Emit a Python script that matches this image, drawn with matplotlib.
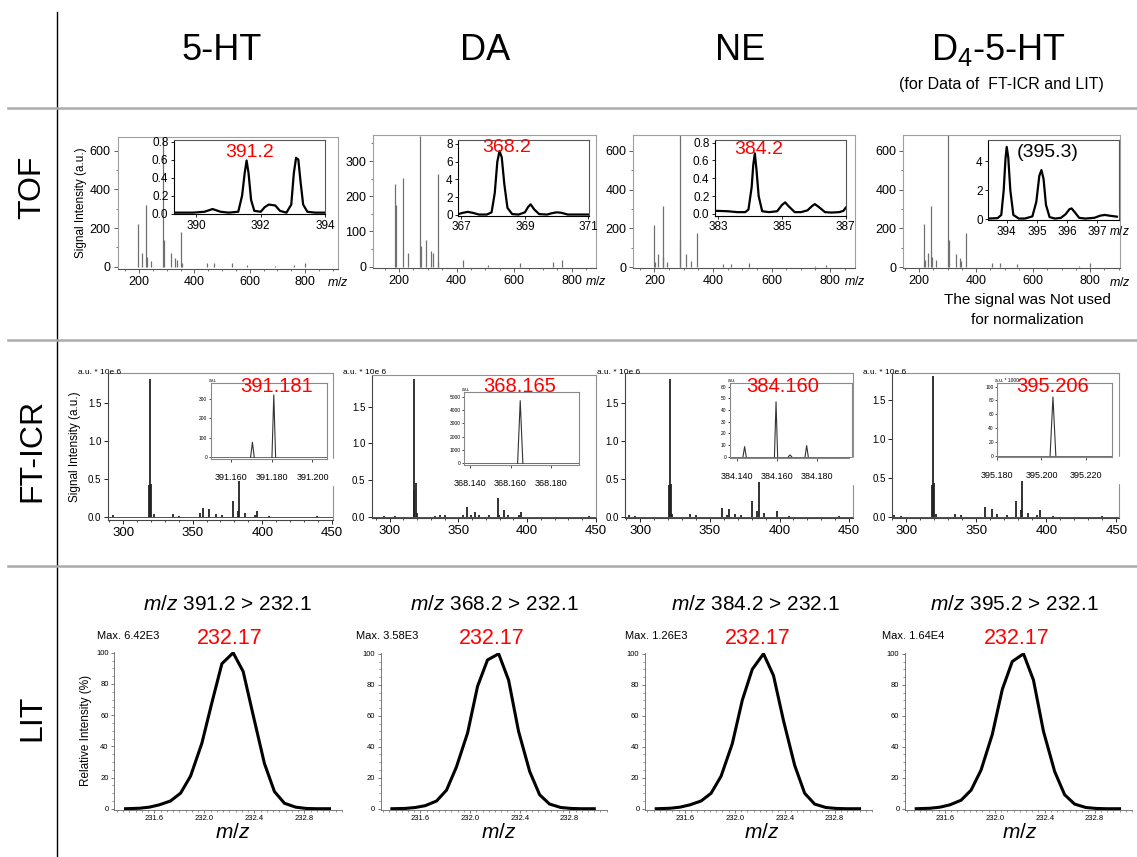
import numpy as np
import matplotlib.pyplot as plt
from matplotlib.lines import Line2D
from matplotlib.patches import Rectangle
from matplotlib.ticker import MultipleLocator, FormatStrFormatter

plt.rcParams['font.family'] = ['Liberation Sans', 'DejaVu Sans']
plt.rcParams['mathtext.fontset'] = 'custom'
plt.rcParams['mathtext.rm'] = 'Liberation Sans'
plt.rcParams['mathtext.it'] = 'Liberation Sans:italic'

# ---------------- data ----------------
compounds = ['5-HT', 'DA', 'NE', 'D$_4$-5-HT']
rows = ['TOF', 'FT-ICR', 'LIT']

# TOF full spectra (m/z, a.u.)
tof1_mz = [197.6, 209, 224, 230, 242, 288, 291, 316, 330, 337, 351, 354, 445, 471, 535, 590, 690, 760, 800]
tof1_int = [220, 72, 319, 52, 31, 680, 138, 69, 47, 34, 181, 17, 17, 20, 17, 8, 6, 10, 20]
tof2_mz = [186, 189, 213, 230, 273, 275, 294, 311, 318, 335, 337, 424, 510, 620, 736, 765]
tof2_int = [234, 175, 253, 38, 372, 60, 76, 45, 38, 262, 14, 19, 5, 9, 14, 19]
tof3_mz = [200, 202, 214, 228, 229, 242, 288, 289, 308, 324, 347, 434, 462, 522, 750, 785]
tof3_int = [218, 26, 69, 317, 55, 29, 690, 141, 69, 34, 177, 17, 17, 21, 8, 12]
tof4_mz = [216, 220, 229, 240, 244, 259, 302, 303, 328, 343, 347, 365, 455, 482, 543, 760, 800]
tof4_int = [221, 38, 72, 317, 55, 38, 690, 141, 69, 46, 34, 177, 21, 21, 17, 8, 21]

# TOF zoomed profiles
tin1_mz = [389.3, 389.9, 390.25, 390.5, 390.75, 391.0, 391.3, 391.42, 391.5, 391.56, 391.62, 391.7, 391.8,
           392.0, 392.12, 392.25, 392.45, 392.6, 392.8, 392.95, 393.03, 393.1, 393.17, 393.24, 393.32,
           393.45, 393.7, 394.0]
tin1_int = [0.01, 0.01, 0.02, 0.05, 0.02, 0.01, 0.02, 0.2, 0.45, 0.59, 0.45, 0.15, 0.03,
            0.02, 0.07, 0.1, 0.09, 0.03, 0.01, 0.1, 0.45, 0.62, 0.6, 0.35, 0.1,
            0.02, 0.01, 0.01]
tin2_mz = [366.9, 367.05, 367.2, 367.35, 367.55, 367.8, 367.95, 368.05, 368.13, 368.2, 368.27, 368.35,
           368.45, 368.6, 368.8, 369.0, 369.1, 369.18, 369.3, 369.45, 369.7, 369.85, 370.0, 370.15,
           370.35, 370.6, 371.0]
tin2_int = [0.1, 0.25, 0.35, 0.25, 0.05, 0.05, 0.3, 2.5, 6.0, 7.2, 6.5, 3.5,
            0.8, 0.1, 0.05, 0.3, 0.9, 1.2, 0.6, 0.1, 0.05, 0.2, 0.3, 0.25,
            0.05, 0.05, 0.05]
tin3_mz = [382.9, 383.3, 383.6, 383.85, 383.95, 384.05, 384.1, 384.15, 384.2, 384.27, 384.38, 384.6,
           384.85, 385.0, 385.1, 385.2, 385.4, 385.6, 385.8, 385.95, 386.03, 386.15, 386.35, 386.55,
           386.8, 386.93, 387.0]
tin3_int = [0.035, 0.03, 0.02, 0.02, 0.05, 0.3, 0.55, 0.68, 0.5, 0.2, 0.03, 0.02,
            0.03, 0.1, 0.13, 0.09, 0.02, 0.02, 0.04, 0.09, 0.11, 0.08, 0.02, 0.015,
            0.02, 0.035, 0.07]
tin4_mz = [393.4, 393.7, 393.82, 393.9, 393.96, 394.0, 394.05, 394.12, 394.22, 394.4, 394.6, 394.85,
           394.98, 395.08, 395.15, 395.22, 395.3, 395.42, 395.6, 395.8, 395.95, 396.08, 396.15, 396.25,
           396.4, 396.6, 396.9, 397.1, 397.25, 397.4, 397.65]
tin4_int = [0.05, 0.08, 0.3, 2.0, 4.2, 5.0, 4.3, 2.0, 0.3, 0.05, 0.05, 0.2,
            1.2, 3.0, 3.4, 2.8, 1.0, 0.15, 0.05, 0.1, 0.35, 0.7, 0.75, 0.5,
            0.1, 0.05, 0.1, 0.25, 0.3, 0.25, 0.18]
tof_labels = ['391.2', '368.2', '384.2', '(395.3)']

# FT-ICR full spectra (x 10^6)
icr1_mz = [292.8, 318.7, 319.2, 320.4, 322, 336, 340, 355, 357.6, 362, 366.7, 371, 379, 382.4, 383.6,
           387.6, 394.8, 396.5, 405, 439.2]
icr1_int = [0.02, 0.41, 1.81, 0.43, 0.03, 0.03, 0.015, 0.05, 0.12, 0.1, 0.04, 0.02, 0.2, 0.07, 0.47,
            0.05, 0.02, 0.08, 0.01, 0.01]
icr2_mz = [296, 304, 317.4, 318.1, 319.4, 320, 333, 336.3, 340, 353, 356, 359, 362.4, 365, 372,
           378.6, 379.8, 383.5, 386, 394.4, 395.6, 445]
icr2_int = [0.01, 0.015, 0.36, 1.88, 0.46, 0.05, 0.01, 0.02, 0.02, 0.02, 0.14, 0.02, 0.06, 0.03, 0.02,
            0.25, 0.03, 0.09, 0.02, 0.03, 0.06, 0.01]
icr3_mz = [292, 296, 320.4, 321.1, 321.8, 323, 336, 340, 358.8, 362, 363.6, 367.7, 372, 380.4, 384,
           385.2, 388.8, 397.9, 407, 443]
icr3_int = [0.02, 0.01, 0.41, 1.81, 0.43, 0.03, 0.03, 0.015, 0.12, 0.02, 0.1, 0.04, 0.02, 0.2, 0.08,
            0.46, 0.05, 0.08, 0.01, 0.01]
icr4_mz = [291, 296, 318.4, 319.1, 319.8, 321, 335, 339, 356.1, 360.9, 365, 372, 378.1, 381.9, 382.9,
           386.6, 393, 395.1, 405, 440]
icr4_int = [0.02, 0.01, 0.41, 1.81, 0.43, 0.03, 0.03, 0.015, 0.12, 0.1, 0.03, 0.02, 0.2, 0.08, 0.46,
            0.05, 0.02, 0.08, 0.01, 0.01]

# FT-ICR zoomed peaks
iin1_mz, iin1_int = [391.1705, 391.181], [77, 319]
iin2_mz, iin2_int = [368.1648], [4700]
iin3_mz, iin3_int = [384.144, 384.1597, 384.1667, 384.175], [8.6, 47, 1.5, 9.5]
iin4_mz, iin4_int = [395.2052], [85]
icr_labels = ['391.181', '368.165', '384.160', '395.206']

# LIT product-ion profiles (relative %)
lit_mz = [231.37, 231.48, 231.56, 231.64, 231.73, 231.81, 231.89, 231.98, 232.06, 232.14,
          232.23, 232.31, 232.39, 232.48, 232.56, 232.64, 232.73, 232.81, 232.89, 233.0]
lit1 = [0, 0.3, 1, 2.5, 5, 10, 21, 42, 68, 93, 100, 88, 60, 29, 11, 3.5, 1, 0.2, 0, 0]
lit2 = [0, 0.2, 0.8, 2, 5, 12, 27, 49, 79, 96, 100, 83, 50, 24, 9, 3, 0.8, 0.2, 0, 0]
lit3 = [0, 0.3, 1, 2.5, 5, 10, 21, 42, 70, 90, 100, 86, 57, 28, 10, 3, 0.8, 0.2, 0, 0]
lit4 = [0, 0.3, 1, 2.5, 5.5, 12, 25, 48, 77, 95, 100, 83, 50, 24, 9, 3, 0.8, 0.2, 0, 0]
lit_titles = ['391.2 > 232.1', '368.2 > 232.1', '384.2 > 232.1', '395.2 > 232.1']
lit_max = ['Max. 6.42E3', 'Max. 3.58E3', 'Max. 1.26E3', 'Max. 1.64E4']

# ---------------- layout helpers ----------------
W, H = 1137, 857
fig = plt.figure(figsize=(W / 100, H / 100), dpi=100)


def box(x0, y0, x1, y1):
    return [x0 / W, 1 - y1 / H, (x1 - x0) / W, (y1 - y0) / H]


def ftext(x, y, s, **kw):
    return fig.text(x / W, 1 - y / H, s, **kw)


# frame lines
fig.add_artist(Line2D([57 / W, 57 / W], [1 - 12 / H, 0], color='black', lw=1))
for yy in [108, 340, 566]:
    fig.add_artist(Line2D([8 / W, 1], [1 - yy / H, 1 - yy / H], color='#aaaaaa', lw=1.8))

# headers
for x, name in zip([222, 485, 740, 998], compounds):
    ftext(x, 50, name, fontsize=26, ha='center', va='center')
ftext(1001, 84, '(for Data of  FT-ICR and LIT)', fontsize=11.5, ha='center', va='center')
for y, name in zip([187, 450, 718], rows):
    ftext(32, y, name, fontsize=23, rotation=90, ha='center', va='center')

# ---------------- TOF ----------------
tof_data = [(tof1_mz, tof1_int), (tof2_mz, tof2_int), (tof3_mz, tof3_int), (tof4_mz, tof4_int)]
tof_rect = [(117.7, 137, 338, 269), (373.3, 135, 596, 267.7), (633.3, 135, 855, 267.7), (903.3, 135, 1120, 268.3)]
tof_xlim = [(123, 919), (111, 884), (128, 885), (144, 905)]
tof_ylim = [(-12, 671), (-3, 374), (-2, 681), (-5, 681)]
tof_yticks = [[0, 200, 400, 600], [0, 100, 200, 300], [0, 200, 400, 600], [0, 200, 400, 600]]

tin_data = [(tin1_mz, tin1_int), (tin2_mz, tin2_int), (tin3_mz, tin3_int), (tin4_mz, tin4_int)]
tin_rect = [(174, 140, 325, 214), (458.3, 140, 589.3, 215.7), (715, 140, 845.7, 215.7), (988.3, 140, 1119, 220)]
tin_xlim = [(389.3, 394.0), (366.9, 371.03), (382.9, 387.0), (393.39, 397.72)]
tin_ylim = [(-0.005, 0.818), (-0.08, 8.45), (-0.02, 0.83), (-0.05, 5.48)]
tin_xticks = [[390, 392, 394], [367, 369, 371], [383, 385, 387], [394, 395, 396, 397]]
tin_yticks = [[0, 0.2, 0.4, 0.6, 0.8], [0, 2, 4, 6, 8], [0, 0.2, 0.4, 0.6, 0.8], [0, 2, 4]]
tin_fmt = ['%.1f', '%d', '%.1f', '%d']
tof_lab_pos = [(250, 153), (507, 148), (759, 150), (1048, 153)]

for i in range(4):
    ax = fig.add_axes(box(*tof_rect[i]))
    ax.vlines(tof_data[i][0], 0, tof_data[i][1], color='#707070', lw=0.9)
    ax.set_xlim(tof_xlim[i])
    ax.set_ylim(tof_ylim[i])
    ax.set_xticks([200, 400, 600, 800])
    ax.xaxis.set_minor_locator(MultipleLocator(50))
    ax.set_yticks(tof_yticks[i])
    ax.yaxis.set_minor_locator(MultipleLocator(tof_yticks[i][1] / 2))
    ax.tick_params(labelsize=9, length=3, width=0.6, color='#444', pad=2)
    ax.tick_params(which='minor', length=1.5, width=0.5, color='#444')
    for s in ax.spines.values():
        s.set_color('#a0a0a0')
        s.set_linewidth(0.8)
    ax.spines['bottom'].set_color('#555')
    ax.text(1.0, -0.055, '$m/z$', transform=ax.transAxes, ha='center', va='top', fontsize=9)
    if i == 0:
        ax.set_ylabel('Signal Intensity (a.u.)', fontsize=8.5, labelpad=2)

    ins = fig.add_axes(box(*tin_rect[i]))
    ins.plot(tin_data[i][0], tin_data[i][1], color='black', lw=1.6)
    ins.set_xlim(tin_xlim[i])
    ins.set_ylim(tin_ylim[i])
    ins.set_xticks(tin_xticks[i])
    ins.set_yticks(tin_yticks[i])
    ins.yaxis.set_major_formatter(FormatStrFormatter(tin_fmt[i]))
    ins.tick_params(labelsize=8.5, length=2.5, width=0.6, pad=1.5)
    for side in ['left', 'bottom']:
        ins.spines[side].set_color('black')
        ins.spines[side].set_linewidth(0.8)
    for side in ['top', 'right']:
        ins.spines[side].set_color('#555')
        ins.spines[side].set_linewidth(0.8)
    if i == 3:
        ins.text(1.0, -0.06, '$m/z$', transform=ins.transAxes, ha='center', va='top', fontsize=8.5)

    ftext(*tof_lab_pos[i], tof_labels[i], fontsize=14, ha='center', va='center',
          color='black' if i == 3 else 'red')

ftext(1027, 300, 'The signal was Not used', fontsize=11, ha='center', va='center')
ftext(1027, 320, 'for normalization', fontsize=11, ha='center', va='center')

# ---------------- FT-ICR ----------------
icr_data = [(icr1_mz, icr1_int), (icr2_mz, icr2_int), (icr3_mz, icr3_int), (icr4_mz, icr4_int)]
icr_rect = [(107.7, 373.3, 333.3, 520), (371.7, 375, 596, 518.3), (625, 373.3, 853.3, 518.3), (892.3, 373.3, 1119.3, 518.3)]
icr_xlim = [(289, 451), (287, 450), (289, 453), (290, 452)]
icr_ylim = [(-0.044, 1.886), (-0.02, 1.93), (-0.022, 1.886), (-0.022, 1.85)]
au_pos = [(78, 372), (343, 372), (597, 372), (863, 372)]

iin_data = [(iin1_mz, iin1_int), (iin2_mz, iin2_int), (iin3_mz, iin3_int), (iin4_mz, iin4_int)]
iin_rect = [(210.7, 383.3, 326.7, 459.3), (464, 391.7, 579.3, 465), (730, 383.3, 851.7, 458.3), (997.3, 383.3, 1111.7, 457.3)]
iin_xlim = [(391.150, 391.207), (368.137, 368.194), (384.1367, 384.1975), (395.1804, 395.2318)]
iin_ylim = [(-10, 378), (-125, 5375), (-1.4, 62.9), (-2.4, 104.8)]
iin_xticks = [[391.16, 391.18, 391.20], [368.14, 368.16, 368.18], [384.14, 384.16, 384.18], [395.18, 395.20, 395.22]]
iin_ystep = [100, 1000, 10, 20]
iin_hw = [0.0009, 0.0013, 0.0008, 0.0013]
iin_au = ['a.u.', 'a.u.', 'a.u.', 'a.u. * 1000']
icr_lab_pos = [(277, 387), (520, 387), (783, 387), (1053, 387)]

for i in range(4):
    ax = fig.add_axes(box(*icr_rect[i]))
    ax.vlines(icr_data[i][0], 0, icr_data[i][1], color='#222', lw=1.3)
    ax.axhline(0, color='#333', lw=0.6)
    ax.set_xlim(icr_xlim[i])
    ax.set_ylim(icr_ylim[i])
    ax.set_xticks([300, 350, 400, 450])
    ax.xaxis.set_minor_locator(MultipleLocator(10))
    ax.set_yticks([0, 0.5, 1.0, 1.5])
    ax.yaxis.set_major_formatter(FormatStrFormatter('%.1f'))
    ax.tick_params(axis='x', labelsize=9.5, length=3, width=0.6, pad=2)
    ax.tick_params(axis='y', labelsize=7, length=3, width=0.6, pad=1.5)
    ax.tick_params(which='minor', length=1.5, width=0.5)
    for s in ax.spines.values():
        s.set_color('#909090')
        s.set_linewidth(0.8)
    ax.spines['left'].set_color('#444')
    ax.spines['bottom'].set_color('#444')
    ftext(*au_pos[i], 'a.u. * 10e 6', fontsize=6, ha='left', va='center')
    if i == 0:
        ax.set_ylabel('Signal Intensity (a.u.)', fontsize=8.5, labelpad=5)

    ins = fig.add_axes(box(*iin_rect[i]))
    for c, h in zip(*iin_data[i]):
        ins.plot([c - iin_hw[i], c, c + iin_hw[i]], [0, h, 0], color='#333', lw=0.8)
    ins.axhline(0, color='#333', lw=0.5)
    ins.set_xlim(iin_xlim[i])
    ins.set_ylim(iin_ylim[i])
    ins.set_xticks(iin_xticks[i])
    ins.xaxis.set_major_formatter(FormatStrFormatter('%.3f'))
    ins.yaxis.set_major_locator(MultipleLocator(iin_ystep[i]))
    ins.tick_params(axis='x', labelsize=6.5, length=2, width=0.5, pad=8)
    ins.tick_params(axis='y', labelsize=3.5, length=1.5, width=0.5, pad=1)
    for s in ins.spines.values():
        s.set_color('#888')
        s.set_linewidth(0.8)
    ins.text(-0.02, 1.0, iin_au[i], transform=ins.transAxes, fontsize=3.5, ha='left', va='bottom')
    if i != 1:
        # white backing of the pasted zoom window hides a piece of the frame
        x1 = icr_rect[i][2]
        fig.add_artist(Rectangle(((x1 - 3) / W, 1 - (iin_rect[i][3] + 26) / H), 6 / W, 26 / H,
                                 transform=fig.transFigure, color='white', zorder=5))
    ftext(*icr_lab_pos[i], icr_labels[i], fontsize=14.5, ha='center', va='center', color='red', zorder=6)

# ---------------- LIT ----------------
lit_data = [lit1, lit2, lit3, lit4]
lit_rect = [(114.3, 652, 342, 809.5), (380.7, 653, 606.7, 809.5), (645, 653, 872, 809.5), (905, 653, 1132, 809.5)]
lit_title_x = [227, 494, 755, 1014]
lit_max_x = [97, 356, 625, 882]
lit_red_x = [230, 491.5, 758, 1017]
lit_mz_x = [233, 499, 762, 1020]

for i in range(4):
    ax = fig.add_axes(box(*lit_rect[i]))
    ax.plot(lit_mz, lit_data[i], color='black', lw=2.2, solid_joinstyle='miter')
    ax.set_xlim(231.28, 233.1)
    ax.set_ylim(-0.5, 100.5)
    ax.set_xticks([231.6, 232.0, 232.4, 232.8])
    ax.xaxis.set_major_formatter(FormatStrFormatter('%.1f'))
    ax.xaxis.set_minor_locator(MultipleLocator(0.05))
    ax.set_yticks([0, 20, 40, 60, 80, 100])
    ax.yaxis.set_minor_locator(MultipleLocator(5))
    ax.tick_params(labelsize=5.5, length=2.5, width=0.5, pad=1.5, color='#444')
    ax.tick_params(which='minor', length=1.2, width=0.4, color='#444')
    for side in ['top', 'right']:
        ax.spines[side].set_visible(False)
    for side in ['left', 'bottom']:
        ax.spines[side].set_color('#666')
        ax.spines[side].set_linewidth(0.6)
    if i == 0:
        ax.set_ylabel('Relative Intensity (%)', fontsize=8.5, labelpad=3)
    ftext(lit_title_x[i], 605, '$m/z$ ' + lit_titles[i], fontsize=15, ha='center', va='center')
    ftext(lit_max_x[i], 636, lit_max[i], fontsize=8, ha='left', va='center')
    ftext(lit_red_x[i], 638, '232.17', fontsize=15.5, ha='center', va='center', color='red')
    ftext(lit_mz_x[i], 833, '$m/z$', fontsize=15, ha='center', va='center')

fig.savefig('out.png', dpi=100, facecolor='white')
